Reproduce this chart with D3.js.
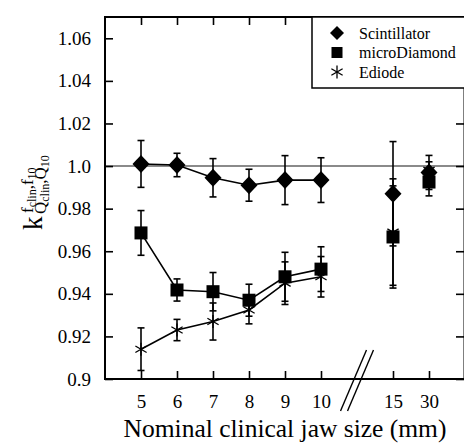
<!DOCTYPE html>
<html><head><meta charset="utf-8">
<script src="https://cdn.jsdelivr.net/npm/d3@7"></script>
<style>body{margin:0;background:#fff}svg{display:block}</style>
</head><body><svg id="c" width="464" height="444"></svg>
<script>
const sizes = ["5","6","7","8","9","10","15","30"];
const axisSlots = ["5","6","7","8","9","10","gap","15","30"];
const yTicks = [0.9,0.92,0.94,0.96,0.98,1.0,1.02,1.04,1.06];
const yTickLabels = ["0.9","0.92","0.94","0.96","0.98","1.0","1.02","1.04","1.06"];
const scint = [1.001,1.0005,0.9945,0.991,0.9934,0.9934,0.987,0.997];
const scintErr = [0.011,0.0055,0.009,0.0075,0.0115,0.0105,0.0245,0.008];
const micro = [0.9686,0.9418,0.941,0.937,0.948,0.9516,0.9667,0.9925];
const microErr = [0.0105,0.0052,0.009,0.0075,0.0115,0.0105,0.024,0.0065];
const ediode = [0.914,0.923,0.927,0.9324,0.945,0.948,0.969,0.998];
const ediodeErr = [0.01,0.005,0.0087,0.0065,0.01,0.0095,0.025,0.004];
const seriesNames = ["Scintillator","microDiamond","Ediode"];
const connected = ["5","6","7","8","9","10"];

const FONT = "'Liberation Serif', 'Times New Roman', Times, 'DejaVu Serif', serif";
const svg = d3.select("#c").style("font-family",FONT);
const L=105, R=465, T=17, B=379;
const x = d3.scalePoint().domain(axisSlots).range([L,R]).padding(1);
const y = d3.scaleLinear().domain([0.9,1.07]).range([B,T]);

svg.append("line").attr("x1",L).attr("x2",R).attr("y1",y(1)).attr("y2",y(1))
  .attr("stroke","#8a8a8a").attr("stroke-width",2);

const tickLen = 8;
const gL = svg.append("g").attr("transform",`translate(${L},0)`)
  .call(d3.axisLeft(y).tickValues(yTicks).tickFormat((d,i)=>yTickLabels[i]).tickSizeInner(-tickLen).tickSizeOuter(0).tickPadding(14));
const gR = svg.append("g").attr("transform",`translate(${R-1},0)`)
  .call(d3.axisRight(y).tickValues(yTicks).tickFormat("").tickSizeInner(-tickLen).tickSizeOuter(0));
const gB = svg.append("g").attr("transform",`translate(0,${B})`)
  .call(d3.axisBottom(x).tickValues(sizes).tickSizeInner(-tickLen).tickSizeOuter(0).tickPadding(16));
const gT = svg.append("g").attr("transform",`translate(0,${T})`)
  .call(d3.axisTop(x).tickValues(sizes).tickFormat("").tickSizeInner(-tickLen).tickSizeOuter(0));
[gL,gR,gB,gT].forEach(g=>{
  g.attr("font-family",null).attr("font-size",19);
  g.select(".domain").attr("stroke","#000").attr("stroke-width",2);
  g.selectAll(".tick line").attr("stroke","#000").attr("stroke-width",1.6);
  g.selectAll("text").attr("fill","#000");
});
gB.select(".domain").attr("d",`M${L-1},0H${R}`);
gL.select(".domain").attr("d",`M0,${T}V${B+1}`);
gT.select(".domain").attr("d",`M${L-1},0H${R}`);

const gx = x("gap");
[-3.5,3.5].forEach(o=>{
  svg.append("line").attr("x1",gx+o-13).attr("y1",B+32).attr("x2",gx+o+13).attr("y2",B-29)
    .attr("stroke","#000").attr("stroke-width",1.4);
});

svg.append("text").attr("x",285).attr("y",437).attr("text-anchor","middle")
  .attr("font-size",25.5).text("Nominal clinical jaw size (mm)");

const yl = svg.append("g").attr("transform","translate(42,230) rotate(-90)");
yl.append("text").attr("x",0).attr("y",0).attr("font-size",27).text("k");
const sup = yl.append("text").attr("x",17).attr("y",-9).attr("font-size",17);
sup.append("tspan").text("f");
sup.append("tspan").attr("dy",3).attr("font-size",12).text("clin");
sup.append("tspan").attr("dy",-3).text(",f");
sup.append("tspan").attr("dy",3).attr("font-size",12).text("10");
const sub = yl.append("text").attr("x",16).attr("y",4).attr("font-size",17);
sub.append("tspan").text("Q");
sub.append("tspan").attr("dy",3).attr("font-size",12).text("clin");
sub.append("tspan").attr("dy",-3).text(",Q");
sub.append("tspan").attr("dy",3).attr("font-size",12).text("10");

const series = [
  {name:seriesNames[0], v:scint, e:scintErr, shape:"diamond"},
  {name:seriesNames[1], v:micro, e:microErr, shape:"square"},
  {name:seriesNames[2], v:ediode, e:ediodeErr, shape:"star"}
];
function marker(g, shape, cx, cy){
  if(shape==="diamond"){
    g.append("path").attr("d",`M${cx},${cy-9}L${cx+8.5},${cy}L${cx},${cy+9}L${cx-8.5},${cy}Z`).attr("fill","#000");
  } else if(shape==="square"){
    g.append("rect").attr("x",cx-6.5).attr("y",cy-6.5).attr("width",13).attr("height",13).attr("fill","#000");
  } else {
    const r=6.5;
    [90,30,150].forEach(a=>{
      const dx=r*Math.cos(a*Math.PI/180), dy=r*Math.sin(a*Math.PI/180);
      g.append("line").attr("x1",cx-dx).attr("y1",cy-dy).attr("x2",cx+dx).attr("y2",cy+dy)
        .attr("stroke","#000").attr("stroke-width",1.3);
    });
  }
}
const gE = svg.append("g"), gLn = svg.append("g"), gM = svg.append("g");
series.forEach(s=>{
  sizes.forEach((k,i)=>{
    const cx=x(k), y1=y(s.v[i]+s.e[i]), y2=y(s.v[i]-s.e[i]);
    gE.append("line").attr("x1",cx).attr("x2",cx).attr("y1",y1).attr("y2",y2).attr("stroke","#000").attr("stroke-width",1.6);
    [y1,y2].forEach(yy=>gE.append("line").attr("x1",cx-3.5).attr("x2",cx+3.5).attr("y1",yy).attr("y2",yy).attr("stroke","#000").attr("stroke-width",1.6));
  });
  const pts = connected.map(k=>[x(k), y(s.v[sizes.indexOf(k)])]);
  gLn.append("path").attr("d",d3.line()(pts)).attr("fill","none").attr("stroke","#000").attr("stroke-width",1.6);
  sizes.forEach((k,i)=>marker(gM, s.shape, x(k), y(s.v[i])));
});

const lg = svg.append("g");
lg.append("rect").attr("x",312).attr("y",T).attr("width",160).attr("height",71)
  .attr("fill","#fff").attr("stroke","#000").attr("stroke-width",1.5);
series.forEach((s,i)=>{
  const cy = 33 + i*19.5;
  if(s.shape==="diamond"){
    lg.append("path").attr("d",`M337,${cy-7}L344,${cy}L337,${cy+7}L330,${cy}Z`).attr("fill","#000");
  } else if(s.shape==="square"){
    lg.append("rect").attr("x",331.5).attr("y",cy-5.5).attr("width",11).attr("height",11).attr("fill","#000");
  } else marker(lg,"star",337,cy);
  lg.append("text").attr("x",359).attr("y",cy+5.5).attr("font-size",16).text(s.name);
});
</script></body></html>
